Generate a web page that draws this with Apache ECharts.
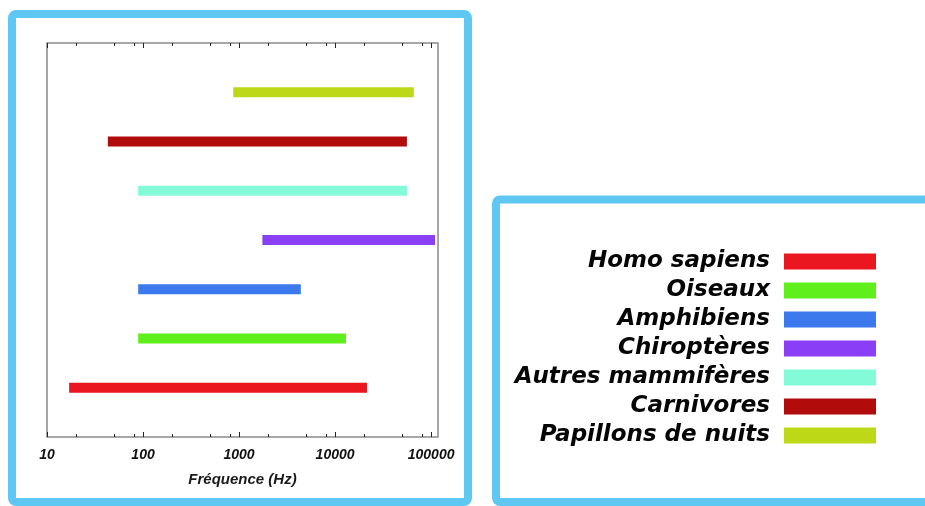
<!DOCTYPE html>
<html>
<head>
<meta charset="utf-8">
<script src="https://cdn.jsdelivr.net/npm/echarts@6/dist/echarts.min.js"></script>
<style>
  html, body { margin: 0; padding: 0; background: #ffffff; }
  #chart { width: 925px; height: 506px; }
</style>
</head>
<body>
<div id="chart"></div>
<script>
// Hearing ranges per group, bottom row first (Hz)
const species = ['Homo sapiens', 'Oiseaux', 'Amphibiens', 'Chiroptères', 'Autres mammifères', 'Carnivores', 'Papillons de nuits'];
const lowFreq  = [17, 89, 89, 1750, 89, 43, 870];
const highFreq = [21500, 13000, 4400, 110000, 56000, 56000, 66000];
const colors = ['#ea1620', '#5ff01c', '#3b79ed', '#8a3ef5', '#84fbd8', '#b20b0b', '#bdd816'];

// Axis range and tick marks
const xMin = 10;
const xMax = 118000;
const majorTicks = [10, 100, 1000, 10000, 100000];
const minorMultipliers = [2, 5, 8];

const frameBlue = '#5ec8f2';

const chart = echarts.init(document.getElementById('chart'), null, { renderer: 'canvas' });

const rangeSeries = species.map((name, i) => ({
  name: name,
  type: 'line',
  data: [[lowFreq[i], i + 1], [highFreq[i], i + 1]],
  symbol: 'none',
  silent: true,
  color: colors[i],
  itemStyle: { color: colors[i] },
  lineStyle: { color: colors[i], width: 10, cap: 'butt' },
  z: 3
}));

// Tick marks: majors at each decade, minors at 2, 5 and 8 times it
const tickData = [];
majorTicks.forEach(v => {
  tickData.push([v, 1]);
  minorMultipliers.forEach(m => {
    const mv = v * m;
    if (mv > xMin && mv < xMax) tickData.push([mv, 0]);
  });
});

const tickSeries = {
  name: 'ticks',
  type: 'custom',
  silent: true,
  data: tickData,
  renderItem: function (params, api) {
    const x = Math.round(api.coord([api.value(0), 1])[0]) + 0.5;
    const len = api.value(1) === 1 ? 5 : 3;
    const cs = params.coordSys;
    const bottom = cs.y + cs.height;
    return {
      type: 'group',
      children: [
        { type: 'line', shape: { x1: x, y1: bottom, x2: x, y2: bottom - len }, style: { stroke: '#222', lineWidth: 1 } },
        { type: 'line', shape: { x1: x, y1: cs.y, x2: x, y2: cs.y + len }, style: { stroke: '#222', lineWidth: 1 } }
      ]
    };
  },
  z: 4
};

const option = {
  backgroundColor: '#ffffff',
  animation: false,
  grid: {
    left: 47, right: 487, top: 43, bottom: 69,
    show: true,
    borderColor: '#8a8a8a',
    borderWidth: 1.5,
    backgroundColor: 'transparent'
  },
  xAxis: {
    type: 'log',
    logBase: 10,
    min: xMin,
    max: xMax,
    name: 'Fréquence (Hz)',
    nameLocation: 'middle',
    nameGap: 35,
    nameTextStyle: {
      fontFamily: 'Liberation Sans',
      fontWeight: 'bold',
      fontStyle: 'italic',
      fontSize: 15,
      color: '#1a1a1a'
    },
    axisLine: { show: false },
    axisTick: { show: false },
    splitLine: { show: false },
    axisLabel: {
      margin: 11,
      showMaxLabel: false,
      fontFamily: 'Liberation Sans',
      fontWeight: 'bold',
      fontStyle: 'italic',
      fontSize: 14,
      color: '#111',
      formatter: function (v) {
        const e = Math.round(Math.log10(v));
        const tv = Math.pow(10, e);
        if (Math.abs(v - tv) / tv > 1e-6) return '';
        return majorTicks.indexOf(tv) >= 0 ? String(tv) : '';
      }
    }
  },
  yAxis: {
    type: 'value',
    min: 0,
    max: 8,
    show: false
  },
  legend: {
    data: species.slice(),
    orient: 'vertical',
    align: 'right',
    right: 49,
    top: 250,
    padding: 0,
    itemGap: 6,
    itemWidth: 92,
    itemHeight: 16,
    icon: 'rect',
    selectedMode: false,
    textStyle: {
      fontFamily: 'DejaVu Sans',
      fontWeight: 'bold',
      fontStyle: 'italic',
      fontSize: 23,
      lineHeight: 16,
      color: '#050505',
      padding: [0, 9, 0, 0]
    }
  },
  graphic: [
    {
      type: 'rect',
      shape: { x: 12, y: 14, width: 456, height: 488, r: 4 },
      style: { fill: null, stroke: frameBlue, lineWidth: 8 },
      silent: true
    },
    {
      type: 'rect',
      shape: { x: 496, y: 199.5, width: 500, height: 302.5, r: 4 },
      style: { fill: null, stroke: frameBlue, lineWidth: 8 },
      silent: true
    }
  ],
  series: rangeSeries.concat([tickSeries])
};

chart.setOption(option);
</script>
</body>
</html>
